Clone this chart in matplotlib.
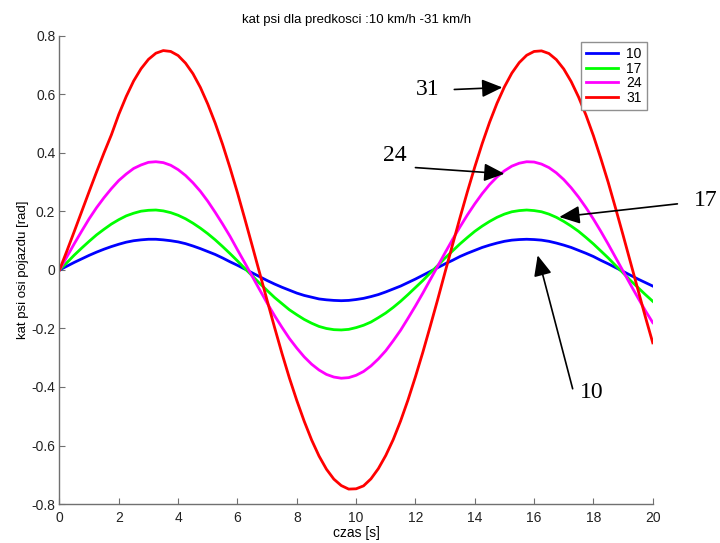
import matplotlib
matplotlib.use("Agg")
import matplotlib.pyplot as plt

# czas [s], co 0.25 s
czas = [i * 0.25 for i in range(81)]

# kat psi dla kolejnych predkosci
psi_10 = [0, 0.013, 0.026, 0.038, 0.050, 0.061, 0.071, 0.080, 0.088, 0.095,
          0.100, 0.103, 0.105, 0.105, 0.103, 0.100, 0.096, 0.090, 0.082, 0.073,
          0.063, 0.053, 0.041, 0.028, 0.016, 0.003, -0.010, -0.023, -0.036, -0.048,
          -0.059, -0.069, -0.079, -0.087, -0.093, -0.099, -0.102, -0.104, -0.105, -0.104,
          -0.101, -0.097, -0.091, -0.084, -0.075, -0.065, -0.055, -0.043, -0.031, -0.018,
          -0.005, 0.008, 0.021, 0.033, 0.046, 0.057, 0.067, 0.077, 0.085, 0.092,
          0.098, 0.102, 0.104, 0.105, 0.104, 0.102, 0.098, 0.092, 0.085, 0.077,
          0.067, 0.057, 0.046, 0.033, 0.021, 0.008, -0.005, -0.018, -0.031, -0.043,
          -0.055]
psi_17 = [0, 0.025, 0.051, 0.075, 0.098, 0.120, 0.139, 0.157, 0.172, 0.185,
          0.194, 0.201, 0.204, 0.205, 0.202, 0.196, 0.187, 0.175, 0.160, 0.143,
          0.124, 0.103, 0.080, 0.056, 0.031, 0.005, -0.020, -0.046, -0.070, -0.094,
          -0.115, -0.136, -0.153, -0.169, -0.182, -0.193, -0.200, -0.204, -0.205, -0.203,
          -0.197, -0.189, -0.178, -0.163, -0.147, -0.128, -0.107, -0.084, -0.060, -0.036,
          -0.010, 0.015, 0.041, 0.065, 0.089, 0.111, 0.132, 0.150, 0.166, 0.180,
          0.191, 0.199, 0.203, 0.205, 0.203, 0.199, 0.191, 0.180, 0.166, 0.150,
          0.132, 0.111, 0.089, 0.065, 0.041, 0.015, -0.010, -0.036, -0.060, -0.084,
          -0.107]
psi_24 = [0, 0.045, 0.090, 0.133, 0.175, 0.213, 0.247, 0.278, 0.306, 0.328,
          0.347, 0.359, 0.368, 0.370, 0.367, 0.358, 0.343, 0.323, 0.298, 0.269,
          0.235, 0.197, 0.157, 0.115, 0.069, 0.024, -0.022, -0.068, -0.113, -0.156,
          -0.196, -0.234, -0.267, -0.297, -0.322, -0.342, -0.357, -0.366, -0.370, -0.368,
          -0.360, -0.347, -0.328, -0.304, -0.276, -0.242, -0.206, -0.165, -0.123, -0.079,
          -0.033, 0.013, 0.059, 0.104, 0.147, 0.188, 0.226, 0.261, 0.292, 0.318,
          0.339, 0.355, 0.365, 0.370, 0.369, 0.362, 0.350, 0.332, 0.309, 0.281,
          0.249, 0.213, 0.174, 0.132, 0.088, 0.042, -0.004, -0.050, -0.095, -0.139,
          -0.180]
psi_31 = [0, 0.065, 0.132, 0.200, 0.268, 0.335, 0.400, 0.462, 0.532, 0.593,
          0.646, 0.688, 0.720, 0.741, 0.750, 0.747, 0.733, 0.707, 0.671, 0.624,
          0.567, 0.502, 0.429, 0.349, 0.264, 0.174, 0.082, -0.011, -0.104, -0.196,
          -0.285, -0.369, -0.446, -0.517, -0.581, -0.636, -0.681, -0.715, -0.737, -0.749,
          -0.748, -0.738, -0.714, -0.679, -0.634, -0.580, -0.516, -0.444, -0.365, -0.281,
          -0.192, -0.101, -0.007, 0.086, 0.178, 0.267, 0.352, 0.432, 0.505, 0.570,
          0.626, 0.673, 0.709, 0.734, 0.747, 0.749, 0.740, 0.719, 0.687, 0.644,
          0.591, 0.529, 0.459, 0.381, 0.299, 0.210, 0.119, 0.026, -0.067, -0.160,
          -0.249]

serie = [("10", psi_10, (0, 0, 1)), ("17", psi_17, (0, 1, 0)),
         ("24", psi_24, (1, 0, 1)), ("31", psi_31, (1, 0, 0))]

# podpisy ze strzalkami: tekst, pozycja tekstu, poczatek strzalki, grot
podpisy = [("31", (12.42, 0.617), (13.31, 0.617), (14.93, 0.624)),
           ("24", (11.30, 0.391), (12.00, 0.350), (15.00, 0.329)),
           ("17", (21.79, 0.238), (20.83, 0.226), (16.85, 0.181)),
           ("10", (17.95, -0.420), (17.30, -0.406), (16.12, 0.050))]

plt.rcParams['font.family'] = ['Liberation Sans', 'DejaVu Sans']

fig = plt.figure(figsize=(7.2, 5.43), dpi=100)
ax = fig.add_axes([0.0826, 0.0718, 0.8240, 0.8620])

for nazwa, y, kolor in serie:
    ax.plot(czas, y, color=kolor, lw=2.0, label=nazwa)

ax.set_xlim(0, 20)
ax.set_ylim(-0.8, 0.8)
ax.set_xticks(range(0, 21, 2))
ax.set_yticks([-0.8, -0.6, -0.4, -0.2, 0, 0.2, 0.4, 0.6, 0.8])
ax.set_yticklabels(['-0.8', '-0.6', '-0.4', '-0.2', '0', '0.2', '0.4', '0.6', '0.8'])

for s in ['top', 'right']:
    ax.spines[s].set_visible(False)
for s in ['left', 'bottom']:
    ax.spines[s].set_color('#707070')
    ax.spines[s].set_linewidth(1.0)
ax.tick_params(direction='in', length=4, color='#707070', labelsize=10,
               labelcolor='#222222')
ax.tick_params(axis='x', pad=5)
ax.tick_params(axis='y', pad=3)

ax.set_title('kat psi dla predkosci :10 km/h -31 km/h', fontsize=9.5, pad=9)
ax.set_xlabel('czas [s]', fontsize=10, labelpad=1)
ax.set_ylabel('kat psi osi pojazdu [rad]', fontsize=9.5, labelpad=2)

leg = ax.legend(loc='upper right', bbox_to_anchor=(0.990, 0.987), borderaxespad=0,
                fontsize=10, fancybox=False, framealpha=1, edgecolor='#909090',
                handlelength=2.3, handletextpad=0.6, borderpad=0.35,
                labelspacing=0.05)
leg.get_frame().set_linewidth(1.0)

for tekst, poz, start, grot in podpisy:
    ax.text(poz[0], poz[1], tekst, family=['Liberation Serif', 'DejaVu Serif'],
            fontsize=17, ha='center', va='center', clip_on=False)
    ax.annotate('', xy=grot, xytext=start, annotation_clip=False,
                arrowprops=dict(arrowstyle='-|>,head_length=1.25,head_width=0.55',
                                color='black', lw=1.2, shrinkA=0, shrinkB=0))

fig.savefig('out.png', dpi=100, facecolor='white')
